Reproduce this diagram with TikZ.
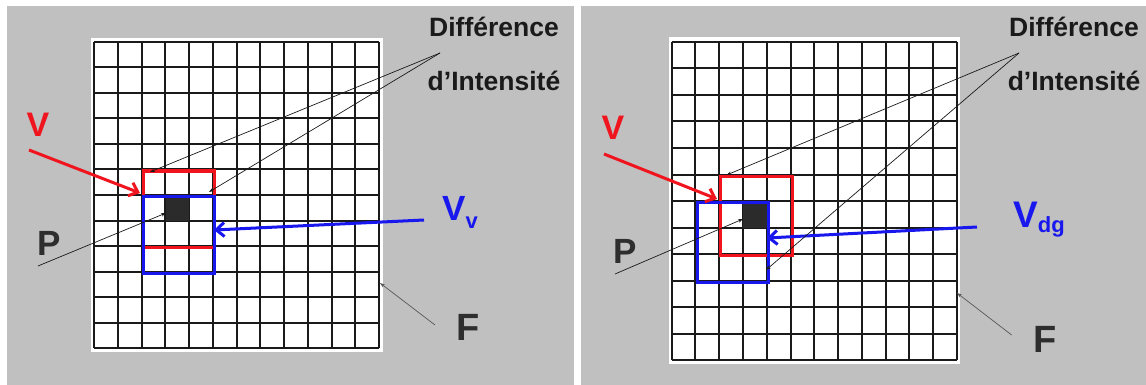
\documentclass[tikz,border=0pt]{standalone}
\usepackage{fontspec}
\setmainfont{Liberation Sans}
\usetikzlibrary{arrows.meta}
\definecolor{Panel}{HTML}{C0C0C0}
\definecolor{Ink}{HTML}{1A1A1A}
\definecolor{Label}{HTML}{2E2E2E}
\definecolor{Red}{HTML}{F0141E}
\definecolor{Blue}{HTML}{1818EE}
\definecolor{Cell}{HTML}{2B2B2B}

\begin{document}
\begin{tikzpicture}[x=1pt,y=-1pt,
    gridline/.style={draw=Ink,line width=2pt},
    win/.style={line width=3.2pt,minimum width=71.2pt,minimum height=76.5pt,inner sep=0pt,anchor=north west},
    fat/.style={line width=3pt,-{Straight Barb[length=8pt,width=14pt]}},
    thin/.style={draw=Ink,line width=0.7pt,-{Stealth[length=5pt,width=3.5pt]}},
    lbl/.style={inner sep=0pt,anchor=base}]
  \useasboundingbox (0,0) rectangle (1146,385);
  \fill[white] (0,0) rectangle (1146,385);
  % left panel
  \fill[Panel] (7,6) rectangle (574,385);
  \fill[white] (91,38) rectangle (383,352);
  \foreach \c in {0,...,12} \draw[gridline] ({94.3+23.72*\c},42) -- ({94.3+23.72*\c},348);
  \foreach \r in {0,...,12} \draw[gridline] (94.3,{42+25.5*\r}) -- (379,{42+25.5*\r});
  \fill[Cell] (165.5,195) rectangle (189.2,220.5);
  \node[win,draw=Red] (lred) at (141.7,169.5) {};
  \node[win,draw=Blue] (lblue) at (141.7,195) {};
  \node[lbl,font=\fontsize{26.5}{30}\selectfont\bfseries,text=Ink] (ldiff) at (494,36.5) {Différence};
  \node[lbl,font=\fontsize{26.5}{30}\selectfont\bfseries,text=Ink] (lint) at (494,91) {d’Intensité};
  \node[lbl,font=\fontsize{34}{34}\selectfont\bfseries,text=Red] (lV) at (38,137) {V};
  \node[lbl,font=\fontsize{35}{35}\selectfont\bfseries,text=Label] (lP) at (49,255) {P};
  \node[lbl,anchor=base west,font=\fontsize{35}{35}\selectfont\bfseries,text=Blue] (lVv) at (442,220) {V\raisebox{-8pt}{\fontsize{22}{22}\selectfont v}};
  \node[lbl,font=\fontsize{38}{38}\selectfont\bfseries,text=Label] (lF) at (468,340) {F};
  \coordinate (lVtail) at (29,150);
  \coordinate (lVtip) at (140,193);
  \coordinate (lVvtail) at (424,220);
  \coordinate (lVvtip) at (214,230);
  \coordinate (lPtail) at (38,266);
  \coordinate (lPtip) at (166,213);
  \coordinate (lFtail) at (435,325);
  \coordinate (lFtip) at (380,283);
  \coordinate (ldiffroot) at (440,53);
  \coordinate (ldiffa) at (150,172);
  \coordinate (ldiffb) at (209,192);
  \draw[fat,Red] (lVtail) -- (lVtip);
  \draw[fat,Blue] (lVvtail) -- (lVvtip);
  \draw[thin] (lPtail) -- (lPtip);
  \draw[thin,draw=Label!80] (lFtail) -- (lFtip);
  \draw[thin] (ldiffroot) -- (ldiffa);
  \draw[thin] (ldiffroot) -- (ldiffb);
  % right panel
  \fill[Panel] (581,6) rectangle (1146,385);
  \fill[white] (669,37) rectangle (960,364);
  \foreach \c in {0,...,12} \draw[gridline] ({671.7+23.76*\c},42) -- ({671.7+23.76*\c},360);
  \foreach \r in {0,...,12} \draw[gridline] (671.7,{42+26.5*\r}) -- (956.8,{42+26.5*\r});
  \fill[Cell] (743,201) rectangle (766.7,227.5);
  \node[win,draw=Red,minimum width=71.3pt,minimum height=79.5pt] (rred) at (719.2,174.5) {};
  \node[win,draw=Blue,minimum width=71.3pt,minimum height=79.5pt] (rblue) at (695.5,201) {};
  \node[lbl,font=\fontsize{26.5}{30}\selectfont\bfseries,text=Ink] (rdiff) at (1074,36.5) {Différence};
  \node[lbl,font=\fontsize{26.5}{30}\selectfont\bfseries,text=Ink] (rint) at (1074,91) {d’Intensité};
  \node[lbl,font=\fontsize{34}{34}\selectfont\bfseries,text=Red] (rV) at (613,140) {V};
  \node[lbl,font=\fontsize{35}{35}\selectfont\bfseries,text=Label] (rP) at (625,263) {P};
  \node[lbl,anchor=base west,font=\fontsize{37}{37}\selectfont\bfseries,text=Blue] (rVdg) at (1013,227) {V\raisebox{-5pt}{\fontsize{22}{22}\selectfont dg}};
  \node[lbl,font=\fontsize{38}{38}\selectfont\bfseries,text=Label] (rF) at (1045,352) {F};
  \coordinate (rVtail) at (604,154);
  \coordinate (rVtip) at (717,199);
  \coordinate (rVdgtail) at (977,227);
  \coordinate (rVdgtip) at (767,238);
  \coordinate (rPtail) at (615,274);
  \coordinate (rPtip) at (743,219);
  \coordinate (rFtail) at (1011.6,335);
  \coordinate (rFtip) at (957,293);
  \coordinate (rdiffroot) at (1019,53);
  \coordinate (rdiffa) at (726.5,175);
  \coordinate (rdiffb) at (766,270);
  \draw[fat,Red] (rVtail) -- (rVtip);
  \draw[fat,Blue] (rVdgtail) -- (rVdgtip);
  \draw[thin] (rPtail) -- (rPtip);
  \draw[thin,draw=Label!80] (rFtail) -- (rFtip);
  \draw[thin] (rdiffroot) -- (rdiffa);
  \draw[thin] (rdiffroot) -- (rdiffb);
\end{tikzpicture}
\end{document}
